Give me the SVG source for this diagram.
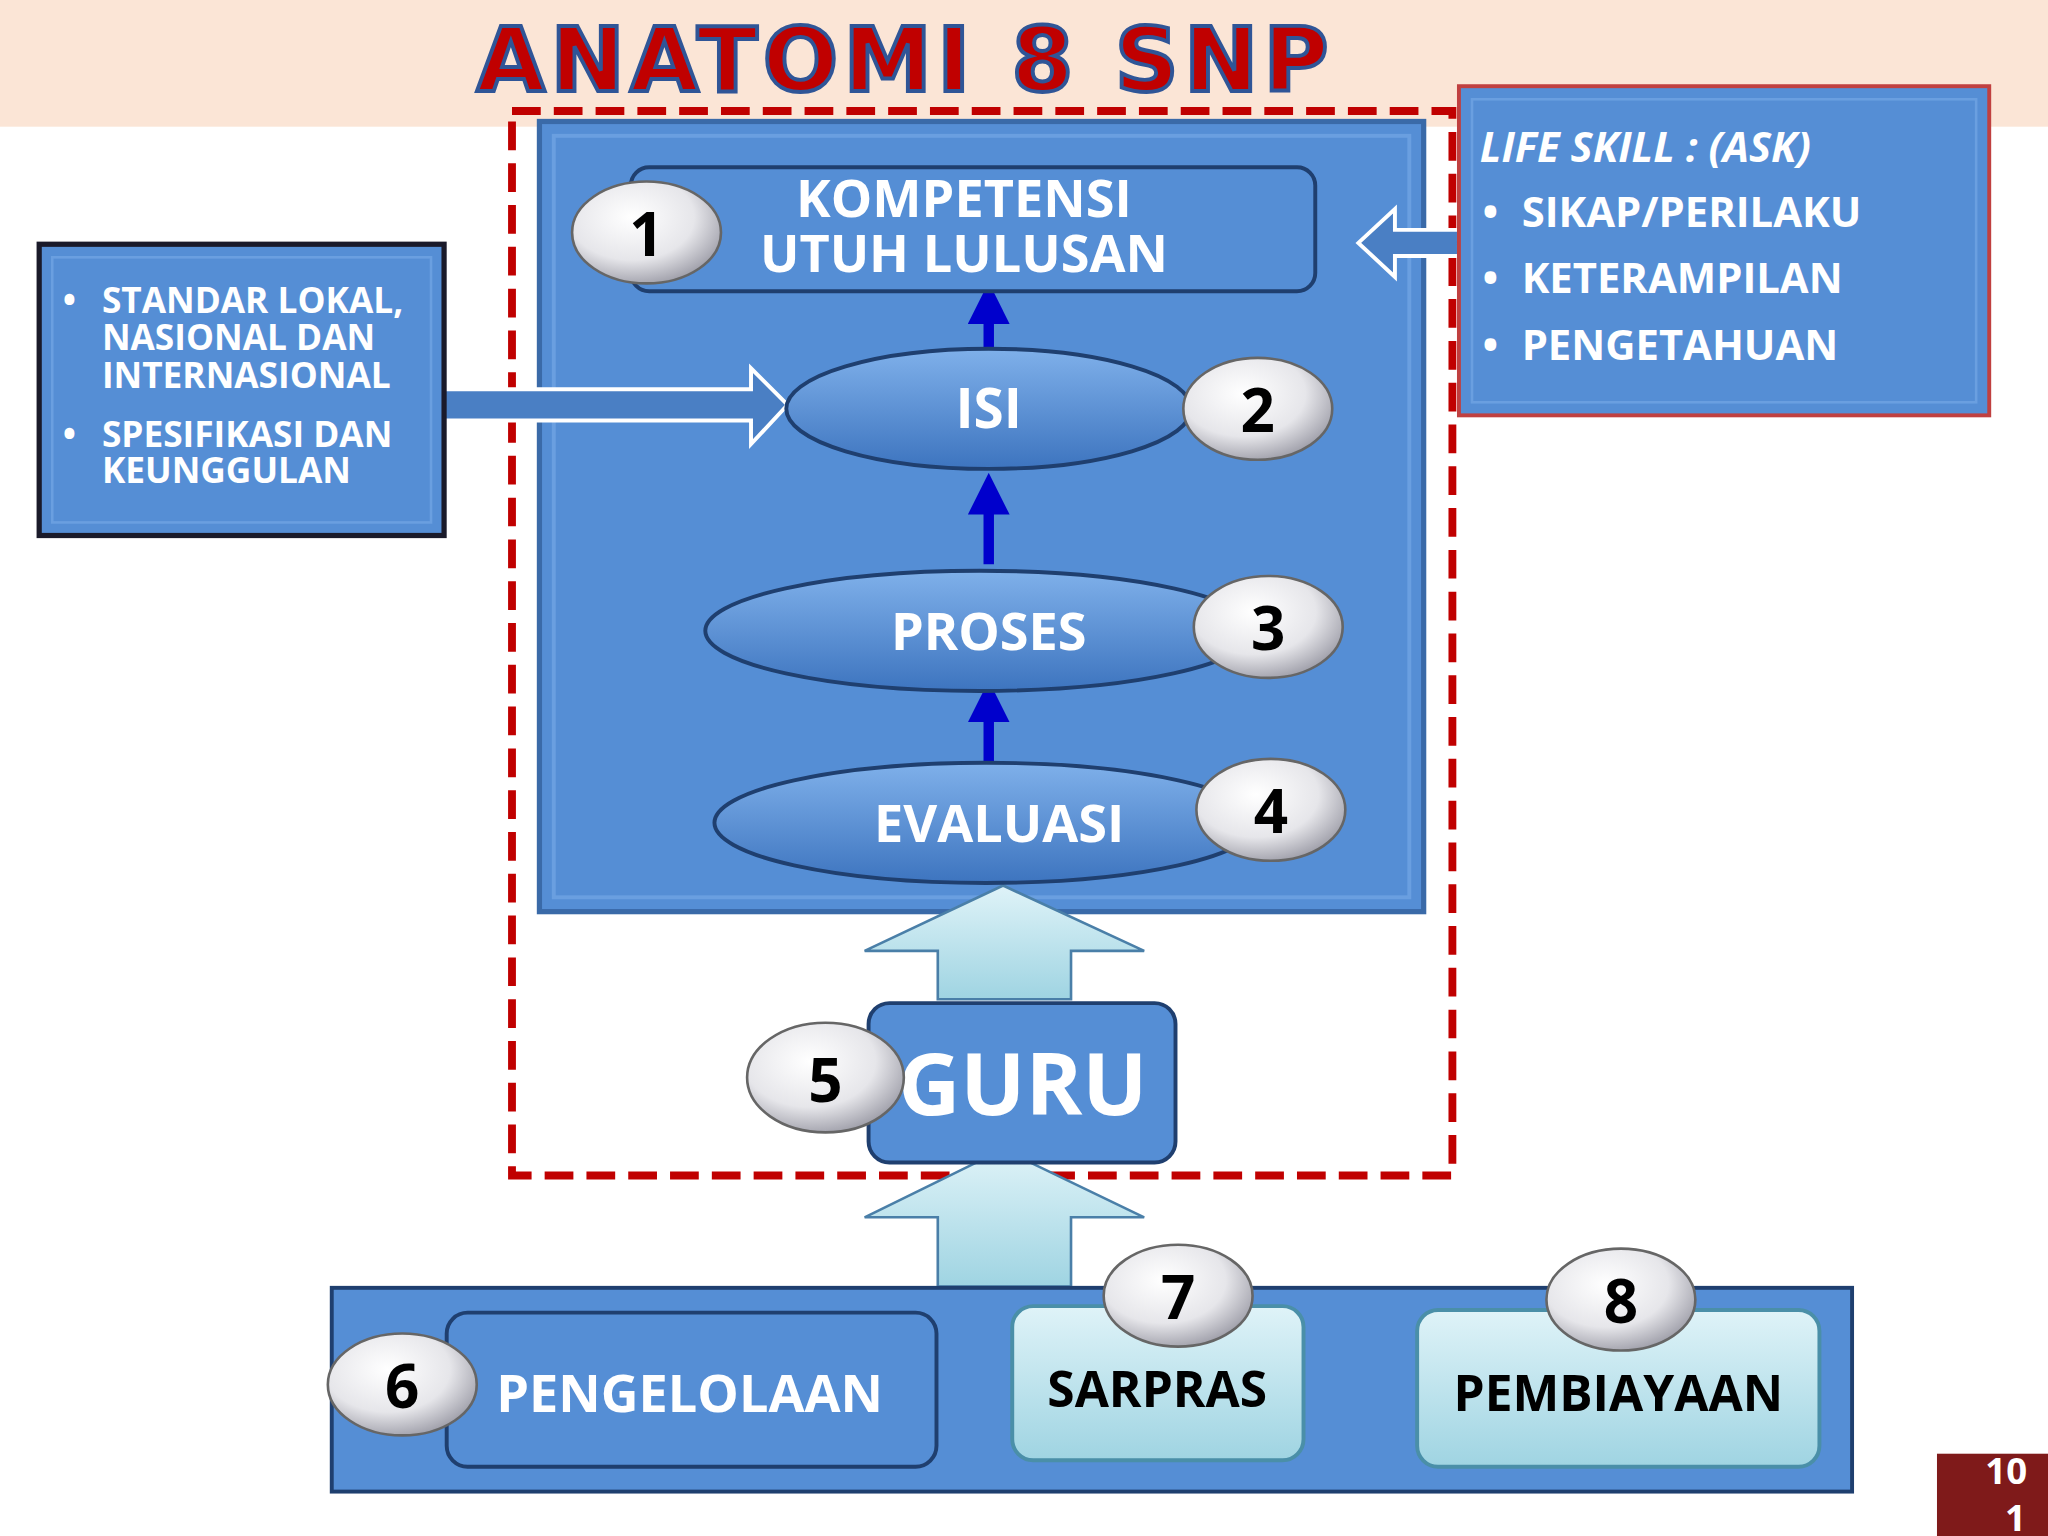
<svg xmlns="http://www.w3.org/2000/svg" width="2048" height="1536" viewBox="0 0 2048 1536">
<defs>
<radialGradient id="bd" cx="0.4" cy="0.35" r="0.7"><stop offset="0" stop-color="#ffffff"/><stop offset="0.6" stop-color="#e6e6ea"/><stop offset="1" stop-color="#9a9aa5"/></radialGradient>
<linearGradient id="el" x1="0" y1="0" x2="0" y2="1"><stop offset="0" stop-color="#7fb0ea"/><stop offset="1" stop-color="#3d74bf"/></linearGradient>
<linearGradient id="cy" x1="0" y1="0" x2="0" y2="1"><stop offset="0" stop-color="#dff3f8"/><stop offset="1" stop-color="#9fd4e2"/></linearGradient>
<marker id="ah" markerWidth="4" markerHeight="4" refX="2" refY="2" orient="auto"><path d="M0,0 L4,2 L0,4 z" fill="#0000cc"/></marker>
<style>
.t{font-family:"Open Sans","DejaVu Sans",sans-serif;font-weight:bold;fill:#fff}
.n{font-family:"Open Sans","DejaVu Sans",sans-serif;font-weight:bold;fill:#000;font-size:46px;text-anchor:middle}
.b{fill:url(#bd);stroke:#666;stroke-width:2}
.box{fill:#558ed5;stroke:#1f3f6f;stroke-width:3}
.ell{fill:url(#el);stroke:#1f3f6f;stroke-width:3}
.up{fill:url(#cy);stroke:#4a7fa8;stroke-width:2}
</style>
</defs>
<g transform="scale(1.30612)">
<rect x="0" y="0" width="1568" height="97" fill="#fbe5d6"/>
<text x="693" y="70" text-anchor="middle" font-family="'DejaVu Sans','Liberation Sans',sans-serif" font-weight="900" font-size="68" fill="#c00000" stroke="#2f5597" stroke-width="3" letter-spacing="4">ANATOMI 8 SNP</text>
<g id="panel"><rect x="413" y="93" width="677" height="605" fill="#558ed5" stroke="#3a6aa8" stroke-width="4"/><rect x="424" y="104" width="655" height="583" fill="none" stroke="#6a9fe0" stroke-width="3"/></g>
<rect x="392" y="85" width="720" height="815" fill="none" stroke="#c00000" stroke-width="6" stroke-dasharray="22,10"/>
<g id="connectors">
<line x1="757" y1="287" x2="757" y2="232" stroke="#0000cc" stroke-width="8" marker-end="url(#ah)"/>
<line x1="757" y1="432" x2="757" y2="378" stroke="#0000cc" stroke-width="8" marker-end="url(#ah)"/>
<line x1="757" y1="592" x2="757" y2="537" stroke="#0000cc" stroke-width="8" marker-end="url(#ah)"/>
<path class="up" d="M718,765 L718,728 L662,728 L768,678 L876,728 L820,728 L820,765 Z"/>
<path class="up" d="M718,985 L718,932 L662,932 L768,880 L876,932 L820,932 L820,985 Z"/>
<path d="M340,298 L575,298 L575,282 L603,310 L575,340 L575,322 L340,322 Z" fill="#4a7fc4" stroke="#fff" stroke-width="3"/>
<path d="M1117,176 L1068,176 L1068,160 L1040,186 L1068,212 L1068,196 L1117,196 Z" fill="#4a7fc4" stroke="#fff" stroke-width="3"/>
</g>
<g id="n1"><rect x="483" y="128" width="524" height="95" rx="14" class="box"/><text class="t" font-size="40" x="738" y="166" text-anchor="middle">KOMPETENSI</text><text class="t" font-size="40" x="738" y="208" text-anchor="middle">UTUH LULUSAN</text><ellipse class="b" cx="495" cy="178" rx="57" ry="39"/><text class="n" x="495" y="196">1</text></g>
<g id="n2"><ellipse class="ell" cx="757" cy="313" rx="155" ry="46"/><text class="t" font-size="42" x="757" y="328" text-anchor="middle">ISI</text><ellipse class="b" cx="963" cy="313" rx="57" ry="39"/><text class="n" x="963" y="331">2</text></g>
<g id="n3"><ellipse class="ell" cx="750" cy="483" rx="210" ry="46"/><text class="t" font-size="40" x="757" y="498" text-anchor="middle">PROSES</text><ellipse class="b" cx="971" cy="480" rx="57" ry="39"/><text class="n" x="971" y="498">3</text></g>
<g id="n4"><ellipse class="ell" cx="755" cy="630" rx="208" ry="46"/><text class="t" font-size="40" x="765" y="645" text-anchor="middle">EVALUASI</text><ellipse class="b" cx="973" cy="620" rx="57" ry="39"/><text class="n" x="973" y="638">4</text></g>
<g id="n5"><rect x="665" y="768" width="235" height="122" rx="16" class="box"/><text class="t" font-size="66" x="783" y="854" text-anchor="middle">GURU</text><ellipse class="b" cx="632" cy="825" rx="60" ry="42"/><text class="n" x="632" y="844">5</text></g>
<g id="left"><rect x="30" y="187" width="310" height="223" fill="#558ed5" stroke="#1a1a2a" stroke-width="4"/><rect x="40" y="197" width="290" height="203" fill="none" stroke="#6a9fe0" stroke-width="2"/>
<g class="t" font-size="27"><text x="48" y="240">•</text><text x="78" y="240">STANDAR LOKAL,</text><text x="78" y="268">NASIONAL DAN</text><text x="78" y="297">INTERNASIONAL</text><text x="48" y="342">•</text><text x="78" y="342">SPESIFIKASI DAN</text><text x="78" y="370">KEUNGGULAN</text></g></g>
<g id="right"><rect x="1117" y="66" width="406" height="252" fill="#558ed5" stroke="#c04040" stroke-width="3"/><rect x="1127" y="76" width="386" height="232" fill="none" stroke="#6a9fe0" stroke-width="2"/>
<g class="t" font-size="32"><text x="1133" y="124" font-style="italic">LIFE SKILL : (ASK)</text><text x="1135" y="174">•</text><text x="1165" y="174">SIKAP/PERILAKU</text><text x="1135" y="224">•</text><text x="1165" y="224">KETERAMPILAN</text><text x="1135" y="276">•</text><text x="1165" y="276">PENGETAHUAN</text></g></g>
<g id="bottom"><rect x="254" y="986" width="1164" height="156" fill="#558ed5" stroke="#1f3f6f" stroke-width="3"/>
<g id="n6"><rect x="342" y="1005" width="375" height="118" rx="16" class="box"/><text class="t" font-size="40" x="528" y="1081" text-anchor="middle">PENGELOLAAN</text><ellipse class="b" cx="308" cy="1060" rx="57" ry="39"/><text class="n" x="308" y="1078">6</text></g>
<g id="n7"><rect x="775" y="1000" width="223" height="118" rx="16" fill="url(#cy)" stroke="#4a8fa8" stroke-width="3"/><text font-family="'Open Sans',sans-serif" font-weight="bold" font-size="38" x="886" y="1077" text-anchor="middle" fill="#000">SARPRAS</text><ellipse class="b" cx="902" cy="992" rx="57" ry="39"/><text class="n" x="902" y="1010">7</text></g>
<g id="n8"><rect x="1085" y="1003" width="308" height="120" rx="16" fill="url(#cy)" stroke="#4a8fa8" stroke-width="3"/><text font-family="'Open Sans',sans-serif" font-weight="bold" font-size="38" x="1239" y="1080" text-anchor="middle" fill="#000">PEMBIAYAAN</text><ellipse class="b" cx="1241" cy="995" rx="57" ry="39"/><text class="n" x="1241" y="1013">8</text></g></g>
<g id="page"><rect x="1483" y="1113" width="85" height="63" fill="#7f1a1a"/><text class="t" font-size="28" x="1536" y="1136" text-anchor="middle">10</text><text class="t" font-size="28" x="1543" y="1172" text-anchor="middle">1</text></g>
</g>
</svg>
